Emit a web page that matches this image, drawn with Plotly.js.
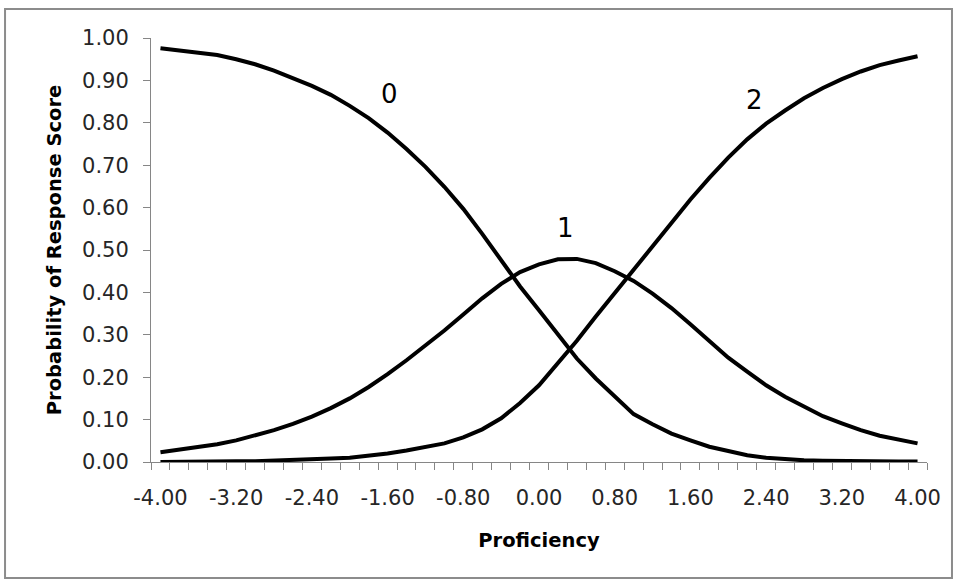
<!DOCTYPE html>
<html>
<head>
<meta charset="utf-8">
<script src="https://cdn.plot.ly/plotly-3.0.1.min.js"></script>
<style>html,body{margin:0;padding:0;background:#fff;}#chart{width:955px;height:582px;}</style>
</head>
<body>
<div id="chart"></div>
<script>
// Proficiency values (categories, step 0.2)
const proficiency = [-4.0,-3.8,-3.6,-3.4,-3.2,-3.0,-2.8,-2.6,-2.4,-2.2,-2.0,-1.8,-1.6,-1.4,-1.2,-1.0,-0.8,-0.6,-0.4,-0.2,0.0,0.2,0.4,0.6,0.8,1.0,1.2,1.4,1.6,1.8,2.0,2.2,2.4,2.6,2.8,3.0,3.2,3.4,3.6,3.8,4.0];
// Probability of response score 0
const score0 = [0.976,0.971,0.966,0.960,0.950,0.938,0.923,0.906,0.887,0.866,0.840,0.811,0.777,0.738,0.696,0.649,0.597,0.538,0.476,0.414,0.358,0.300,0.244,0.197,0.154,0.113,0.089,0.067,0.051,0.036,0.026,0.016,0.010,0.006,0.004,0.003,0.002,0.002,0.001,0.001,0.001];
// Probability of response score 1
const score1 = [0.023,0.029,0.035,0.042,0.051,0.062,0.075,0.090,0.107,0.127,0.150,0.177,0.207,0.240,0.274,0.310,0.348,0.386,0.420,0.448,0.466,0.478,0.479,0.469,0.450,0.427,0.397,0.363,0.325,0.284,0.246,0.213,0.181,0.154,0.130,0.108,0.091,0.075,0.062,0.053,0.044];
// Probability of response score 2
const score2 = [0.000,0.001,0.001,0.001,0.002,0.002,0.003,0.004,0.006,0.008,0.010,0.014,0.020,0.027,0.035,0.044,0.058,0.077,0.103,0.139,0.181,0.232,0.286,0.343,0.398,0.452,0.509,0.565,0.619,0.670,0.718,0.761,0.798,0.829,0.858,0.882,0.903,0.921,0.936,0.947,0.957];
// Axis tick labels
const xTickVals = [-4.0,-3.2,-2.4,-1.6,-0.8,0.0,0.8,1.6,2.4,3.2,4.0];
const yTickVals = [0,0.1,0.2,0.3,0.4,0.5,0.6,0.7,0.8,0.9,1.0];
const curveLabels = ["0","1","2"];

const lineStyle = {color:'#000000', width:4};
const traces = [score0, score1, score2].map((s, i) => ({
  type:'scatter', mode:'lines', x:proficiency, y:s, name:curveLabels[i],
  line:lineStyle, hoverinfo:'skip'
}));

const gray = '#868686';
const font = {family:'"DejaVu Sans", sans-serif', color:'#262626'};

const layout = {
  width:955, height:582,
  margin:{l:151, r:28, t:38, b:120, pad:0},
  paper_bgcolor:'#ffffff', plot_bgcolor:'#ffffff',
  showlegend:false,
  font:{family:font.family, size:21, color:font.color},
  xaxis:{
    range:[-4.1, 4.1], fixedrange:true,
    tickmode:'array', tickvals:xTickVals,
    ticktext:xTickVals.map(v => v.toFixed(2)),
    ticks:'outside', ticklen:7, tickcolor:'rgba(0,0,0,0)',
    ticklabelstandoff:10,
    tickfont:{family:font.family, size:21, color:font.color},
    minor:{tickmode:'linear', tick0:-4.1, dtick:0.2, ticks:'outside', ticklen:7, tickcolor:gray, tickwidth:1, showgrid:false},
    showline:true, linecolor:gray, linewidth:1,
    showgrid:false, zeroline:false,
    title:{text:'<b>Proficiency</b>', font:{family:font.family, size:19.5, color:'#000000'}, standoff:24}
  },
  yaxis:{
    range:[0, 1], fixedrange:true,
    tickmode:'array', tickvals:yTickVals,
    ticktext:yTickVals.map(v => v.toFixed(2)),
    ticks:'outside', ticklen:7, tickcolor:gray, tickwidth:1,
    ticklabelstandoff:10,
    tickfont:{family:font.family, size:21, color:font.color},
    showline:true, linecolor:gray, linewidth:1,
    showgrid:false, zeroline:false,
    title:{text:'<b>Probability of Response Score</b>', font:{family:font.family, size:19.5, color:'#000000'}, standoff:15}
  },
  annotations:[
    {x:-1.585, y:0.868, text:curveLabels[0]},
    {x:0.285, y:0.552, text:curveLabels[1]},
    {x:2.282, y:0.854, text:curveLabels[2]}
  ].map(a => Object.assign(a, {xref:'x', yref:'y', showarrow:false, xanchor:'center', yanchor:'middle',
    font:{family:font.family, size:26, color:'#000000'}})),
  shapes:[
    {type:'rect', xref:'paper', yref:'paper', x0:-0.1881, x1:1.0322, y0:-0.2736, y1:1.0684,
     line:{color:'#8c8c8c', width:2}, fillcolor:'rgba(0,0,0,0)', layer:'below'}
  ]
};

Plotly.newPlot('chart', traces, layout, {staticPlot:true, displayModeBar:false});
</script>
</body>
</html>
